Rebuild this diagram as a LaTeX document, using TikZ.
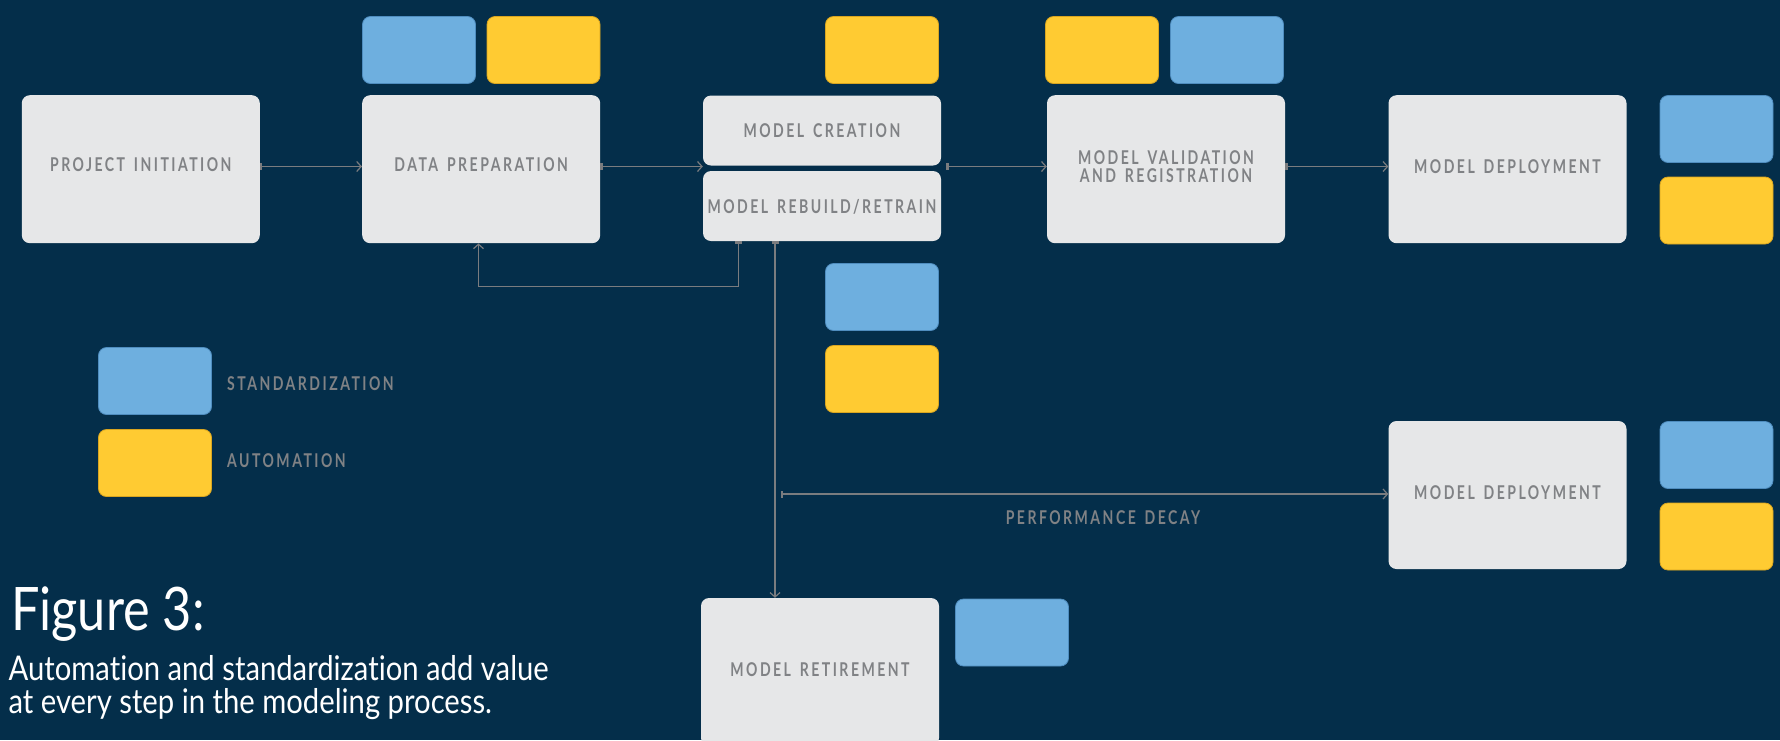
\documentclass[tikz,border=0pt]{standalone}
\usepackage{fontspec}
\usetikzlibrary{arrows.meta,calc}
\setmainfont{Lato}
\newfontfamily\steplabelfont[FakeStretch=0.74,LetterSpace=13,WordSpace=1.5]{Lato}
\newfontfamily\captionfont[FakeStretch=0.86,Ligatures=NoCommon]{Lato}
\newfontfamily\fignofont[FakeStretch=0.84]{Lato}

\definecolor{bgnavy}{HTML}{042E4A}
\definecolor{boxgray}{HTML}{E6E7E8}
\definecolor{labelgray}{HTML}{808285}
\definecolor{linegray}{HTML}{7A7C7F}
\definecolor{stdblue}{HTML}{6EAFDF}
\definecolor{stdblueedge}{HTML}{4F8DBF}
\definecolor{autoyellow}{HTML}{FFCB32}
\definecolor{autoyellowedge}{HTML}{D9A520}

\tikzset{
  labeltext/.style={font=\steplabelfont\bfseries\fontsize{19}{18}\selectfont, text=labelgray},
  stepbox/.style={labeltext, fill=boxgray, rounded corners=8pt, inner sep=0pt,
    minimum width=238pt, minimum height=148pt, align=center, text depth=5pt},
  halfbox/.style={stepbox, minimum height=70pt, text depth=0pt},
  stdtag/.style={fill=stdblue, draw=stdblueedge, line width=0.8pt, rounded corners=8pt,
    minimum width=113pt, minimum height=67pt, inner sep=0pt},
  autotag/.style={stdtag, fill=autoyellow, draw=autoyellowedge},
  legendtext/.style={labeltext, inner sep=0pt},
  captiontext/.style={font=\captionfont\fontsize{34}{33}\selectfont, text=white,
    anchor=base west, inner sep=0pt},
  flow/.style={draw=linegray, line width=1.4pt,
    {Bar[width=7pt,line width=2.4pt]}-{Straight Barb[length=4.5pt,width=10pt,line width=1.2pt]}},
}

\begin{document}
\begin{tikzpicture}[x=1pt,y=-1pt]
\fill[bgnavy] (0,0) rectangle (1780,740);
\useasboundingbox (0,0) rectangle (1780,740);

% process steps
\node[stepbox, text depth=9pt] (pi) at (140.8,169.2) {PROJECT INITIATION};
\node[stepbox, text depth=9pt] (dp) at (481.2,169.2) {DATA PREPARATION};
\node[halfbox] (mc) at (822,130.5) {MODEL CREATION};
\node[halfbox] (mr) at (822,206) {MODEL REBUILD/RETRAIN};
\node[stepbox] (mv) at (1166,169.2) {MODEL VALIDATION\\AND REGISTRATION};
\node[stepbox] (mdA) at (1507.5,169.2) {MODEL DEPLOYMENT};
\node[stepbox] (mdB) at (1507.5,495) {MODEL DEPLOYMENT};
\node[stepbox] (mret) at (820,672) {MODEL RETIREMENT};

% value tags
\node[stdtag]  (dpS)   at (419,50) {};
\node[autotag] (dpA)   at (543.5,50) {};
\node[autotag] (mcA)   at (882,50) {};
\node[autotag] (mvA)   at (1102,50) {};
\node[stdtag]  (mvS)   at (1227,50) {};
\node[stdtag]  (mdAS)  at (1716.5,129) {};
\node[autotag] (mdAA)  at (1716.5,210.5) {};
\node[stdtag]  (mrS)   at (882,297) {};
\node[autotag] (mrA)   at (882,379) {};
\node[stdtag]  (mdBS)  at (1716.5,455) {};
\node[autotag] (mdBA)  at (1716.5,536.5) {};
\node[stdtag]  (mretS) at (1012,632.5) {};

% legend
\node[stdtag]  (legS) at (155,381) {};
\node[autotag] (legA) at (155,463) {};
\node[legendtext, anchor=west] (legSt) at (227,383.7) {STANDARDIZATION};
\node[legendtext, anchor=west] (legAt) at (227,460.7) {AUTOMATION};

% connectors
\coordinate (row) at (0,166.5);
\draw[flow] (pi.east |- row) -- (dp.west |- row);
\draw[flow] (dp.east |- row) -- (mc.west |- row);
\draw[flow] ([xshift=5pt]mc.east |- row) -- (mv.west |- row);
\draw[flow] (mv.east |- row) -- (mdA.west |- row);

\coordinate (fbx) at (738.5,0);
\coordinate (fby) at (0,286.5);
\coordinate (dpx) at (478.5,0);
\draw[flow] (mr.south -| fbx) -- (fbx |- fby) -- (dpx |- fby) -- (dp.south -| dpx);

\coordinate (decx) at (775,0);
\draw[flow] (mr.south -| decx) -- (mret.north -| decx);
\coordinate (decaystart) at (781,494);
\draw[flow] (decaystart) -- (mdB.west |- decaystart);
\node[legendtext] (decaylbl) at (1103,517.5) {PERFORMANCE DECAY};

% caption
\node[font=\fignofont\fontsize{60}{60}\selectfont, text=white, anchor=base west, inner sep=0pt]
  (figno) at (11,630) {Figure 3:};
\node[captiontext] (figline1) at (8.4,680) {Automation and standardization add value};
\node[captiontext] (figline2) at (8.4,713) {at every step in the modeling process.};
\end{tikzpicture}
\end{document}
